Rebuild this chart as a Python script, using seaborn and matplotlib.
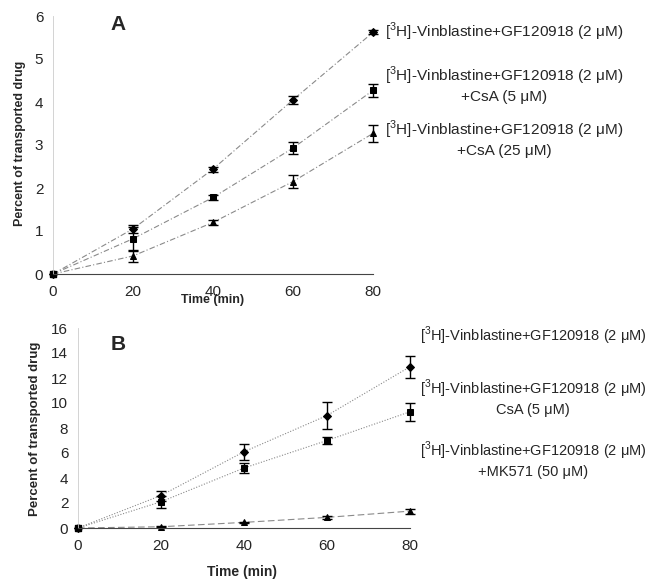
import pandas as pd
import numpy as np
import matplotlib
matplotlib.use('Agg')
import matplotlib.pyplot as plt
import seaborn as sns

# time points (min)
time = [0, 20, 40, 60, 80]

# panel A values (% transported) and error bars
a_gf = [0, 1.05, 2.44, 4.05, 5.62]
a_gf_err = [0, 0.10, 0.06, 0.10, 0.05]
a_csa5 = [0, 0.82, 1.78, 2.93, 4.27]
a_csa5_err = [0, 0.28, 0.05, 0.15, 0.15]
a_csa25 = [0, 0.42, 1.20, 2.15, 3.27]
a_csa25_err = [0, 0.13, 0.06, 0.15, 0.20]

# panel B values
b_gf = [0, 2.6, 6.1, 9.0, 12.9]
b_gf_err = [0, 0.40, 0.65, 1.10, 0.90]
b_csa5 = [0, 2.1, 4.8, 7.0, 9.3]
b_csa5_err = [0, 0.50, 0.40, 0.30, 0.70]
b_mk = [0, 0.10, 0.45, 0.85, 1.35]
b_mk_err = [0, 0.05, 0.05, 0.10, 0.20]

names_a = ['gf', 'csa5', 'csa25']
names_b = ['gf', 'csa5', 'mk']

labels_a = [r'[$^{3}$H]-Vinblastine+GF120918 (2 μM)',
            '[$^{3}$H]-Vinblastine+GF120918 (2 μM)\n+CsA (5 μM)',
            '[$^{3}$H]-Vinblastine+GF120918 (2 μM)\n+CsA (25 μM)']
labels_b = [r'[$^{3}$H]-Vinblastine+GF120918 (2 μM)',
            '[$^{3}$H]-Vinblastine+GF120918 (2 μM)\nCsA (5 μM)',
            '[$^{3}$H]-Vinblastine+GF120918 (2 μM)\n+MK571 (50 μM)']

sns.set_style('white')
plt.rcParams['font.family'] = ['Liberation Sans', 'DejaVu Sans']
plt.rcParams['mathtext.fontset'] = 'custom'
plt.rcParams['mathtext.rm'] = 'Liberation Sans'

W, H = 649, 579
fig = plt.figure(figsize=(W / 100, H / 100), dpi=100)


def box(l, t, r, b):
    return [l / W, 1 - b / H, (r - l) / W, (b - t) / H]


def make_df(vals, names):
    rows = []
    for n, v in zip(names, vals):
        for t, y in zip(time, v):
            rows.append({'time': t, 'value': y, 'series': n})
    return pd.DataFrame(rows)


def draw_panel(ax, vals, errs, names, markers, dashes, ymax, yticks):
    df = make_df(vals, names)
    sns.lineplot(data=df, x='time', y='value', style='series',
                 markers=markers, dashes=dashes, color='#8a8a8a',
                 linewidth=0.8, markersize=4.2, markerfacecolor='black',
                 markeredgecolor='black', legend=False, ax=ax, clip_on=False)
    for v, e in zip(vals, errs):
        ax.errorbar(time[1:], v[1:], yerr=e[1:], fmt='none', ecolor='black',
                    elinewidth=1.0, capsize=3.5, capthick=1.0, clip_on=False)
    ax.plot([0], [0], 's', color='black', markersize=4.2, clip_on=False)
    ax.set_xlim(0, 80)
    ax.set_ylim(0, ymax)
    ax.set_xticks([0, 20, 40, 60, 80])
    ax.set_yticks(yticks)
    ax.tick_params(axis='x', length=0, pad=8, labelsize=11)
    ax.tick_params(axis='y', length=3, width=0.6, color='#999999',
                   direction='out', pad=4, labelsize=11)
    sns.despine(ax=ax)
    ax.spines['left'].set_color('#cccccc')
    ax.spines['left'].set_linewidth(0.6)
    ax.spines['bottom'].set_color('#444444')
    ax.spines['bottom'].set_linewidth(0.8)
    ax.set_xlabel('')
    ax.set_ylabel('')


# panel A
axA = fig.add_axes(box(53, 16, 373, 274))
draw_panel(axA, [a_gf, a_csa5, a_csa25], [a_gf_err, a_csa5_err, a_csa25_err],
           names_a, {'gf': 'D', 'csa5': 's', 'csa25': '^'},
           {'gf': (5, 2, 1, 2), 'csa5': (5, 2, 1, 2), 'csa25': (5, 2, 1, 2)},
           6, [0, 1, 2, 3, 4, 5, 6])
fig.text(20 / W, 1 - 143 / H, 'Percent of transported drug',
         rotation=90, ha='center', va='center', fontsize=9, fontweight='bold')
fig.text(213 / W, 1 - 300 / H, 'Time (min)', ha='center', va='center',
         fontsize=9, fontweight='bold')
fig.text(118 / W, 1 - 25 / H, 'A', ha='center', va='center',
         fontsize=15, fontweight='bold')
for lab, y in zip(labels_a, [32, 84, 138]):
    fig.text(504 / W, 1 - y / H, lab, ha='center', va='center',
             fontsize=11.1, multialignment='center', linespacing=1.25)

# panel B
axB = fig.add_axes(box(78, 328, 410, 528))
draw_panel(axB, [b_gf, b_csa5, b_mk], [b_gf_err, b_csa5_err, b_mk_err],
           names_b, {'gf': 'D', 'csa5': 's', 'mk': '^'},
           {'gf': (1, 1.5), 'csa5': (1, 1.5), 'mk': (6, 3)},
           16, [0, 2, 4, 6, 8, 10, 12, 14, 16])
fig.text(35 / W, 1 - 429 / H, 'Percent of transported drug',
         rotation=90, ha='center', va='center', fontsize=9.5, fontweight='bold')
fig.text(242 / W, 1 - 572 / H, 'Time (min)', ha='center', va='center',
         fontsize=10, fontweight='bold')
fig.text(118 / W, 1 - 345 / H, 'B', ha='center', va='center',
         fontsize=15, fontweight='bold')
for lab, y in zip(labels_b, [336, 397, 459]):
    fig.text(533 / W, 1 - y / H, lab, ha='center', va='center',
             fontsize=10.5, multialignment='center', linespacing=1.25)

fig.savefig('out.png', dpi=100)
